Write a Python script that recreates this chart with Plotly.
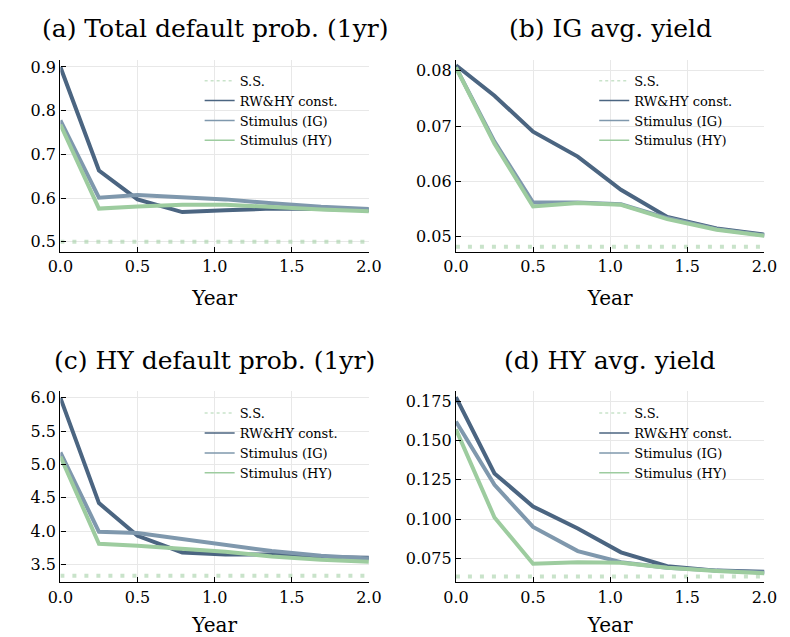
import plotly.graph_objects as go

# ---------------- data ----------------
years = [0.0, 0.25, 0.5, 0.79, 1.07, 1.37, 1.69, 2.0]

# (a) Total default prob. (1yr)
a_ss = 0.50
a_rw = [0.900, 0.663, 0.597, 0.568, 0.572, 0.576, 0.575, 0.572]
a_ig = [0.778, 0.601, 0.607, 0.603, 0.597, 0.588, 0.580, 0.575]
a_hy = [0.768, 0.576, 0.581, 0.585, 0.585, 0.579, 0.574, 0.570]

# (b) IG avg. yield
b_ss = 0.0482
b_rw = [0.0810, 0.0755, 0.0690, 0.0645, 0.0585, 0.0536, 0.0515, 0.0504]
b_ig = [0.0806, 0.0672, 0.0562, 0.0562, 0.0559, 0.0534, 0.0514, 0.0503]
b_hy = [0.0806, 0.0668, 0.0555, 0.0561, 0.0558, 0.0532, 0.0513, 0.0502]

# (c) HY default prob. (1yr)
c_ss = 3.33
c_rw = [6.00, 4.42, 3.93, 3.68, 3.65, 3.65, 3.61, 3.60]
c_ig = [5.18, 3.99, 3.97, 3.88, 3.80, 3.70, 3.63, 3.59]
c_hy = [5.12, 3.81, 3.78, 3.74, 3.69, 3.62, 3.57, 3.54]

# (d) HY avg. yield
d_ss = 0.0634
d_rw = [0.1775, 0.1290, 0.1080, 0.0940, 0.0788, 0.0700, 0.0672, 0.0665]
d_ig = [0.1620, 0.1217, 0.0950, 0.0796, 0.0725, 0.0690, 0.0672, 0.0660]
d_hy = [0.1570, 0.1010, 0.0716, 0.0725, 0.0722, 0.0690, 0.0670, 0.0655]

titles = ["(a) Total default prob. (1yr)", "(b) IG avg. yield",
          "(c) HY default prob. (1yr)", "(d) HY avg. yield"]
names = ["S.S.", "RW&HY const.", "Stimulus (IG)", "Stimulus (HY)"]
xticks = [0.0, 0.5, 1.0, 1.5, 2.0]

C_RW = "#4b6581"
C_IG = "#7f98ad"
C_HY = "#9dcc9f"
C_SS = "rgba(157,204,159,0.55)"

FONT = "DejaVu Serif"

W, H = 790, 637

def px_x(p):
    return p / W

def px_y(p):
    return 1 - p / H

panels = [
    dict(ss=a_ss, rw=a_rw, ig=a_ig, hy=a_hy, xd=(49, 368), yd=(57, 250),
         yr=(0.477, 0.9166), ytv=[0.5, 0.6, 0.7, 0.8, 0.9], fmt=".1f"),
    dict(ss=b_ss, rw=b_rw, ig=b_ig, hy=b_hy, xd=(458, 777), yd=(57, 250),
         yr=(0.0473, 0.0820), ytv=[0.05, 0.06, 0.07, 0.08], fmt=".2f"),
    dict(ss=c_ss, rw=c_rw, ig=c_ig, hy=c_hy, xd=(49, 368), yd=(390, 582),
         yr=(3.232, 6.10), ytv=[3.5, 4.0, 4.5, 5.0, 5.5, 6.0], fmt=".1f"),
    dict(ss=d_ss, rw=d_rw, ig=d_ig, hy=d_hy, xd=(458, 777), yd=(390, 582),
         yr=(0.0598, 0.1813), ytv=[0.075, 0.100, 0.125, 0.150, 0.175], fmt=".3f"),
]

fig = go.Figure()
layout = dict(
    width=W, height=H, margin=dict(l=0, r=0, t=0, b=0),
    paper_bgcolor="white", plot_bgcolor="white",
    font=dict(family=FONT, color="black"),
    showlegend=True,
)
annotations = []

legend_pos = [(193, 63), (601, 63), (193, 397), (601, 397)]

for i, p in enumerate(panels):
    k = "" if i == 0 else str(i + 1)
    xa, ya = "x" + k, "y" + k
    lg = "legend" + k
    ssv = [p["ss"]] * len(years)
    # steady state
    fig.add_trace(go.Scatter(x=years, y=ssv, mode="lines", xaxis=xa, yaxis=ya,
                             line=dict(color=C_SS, width=4, dash="4px,8px"),
                             showlegend=False, hoverinfo="skip"))
    for yv, col in [(p["rw"], C_RW), (p["ig"], C_IG), (p["hy"], C_HY)]:
        fig.add_trace(go.Scatter(x=years, y=yv, mode="lines", xaxis=xa, yaxis=ya,
                                 line=dict(color=col, width=4),
                                 showlegend=False))
    # legend entries (thin lines)
    for nm, col, dash in [(names[0], C_SS, "dot"),
                          (names[1], C_RW, "solid"),
                          (names[2], C_IG, "solid"),
                          (names[3], C_HY, "solid")]:
        fig.add_trace(go.Scatter(x=[None], y=[None], mode="lines", xaxis=xa, yaxis=ya,
                                 name=nm, legend=lg,
                                 line=dict(color=col, width=1.5, dash=dash)))
    lx, ly = legend_pos[i]
    layout[lg] = dict(x=px_x(lx), y=px_y(ly), xanchor="left", yanchor="top",
                      bgcolor="rgba(0,0,0,0)", borderwidth=0,
                      font=dict(family=FONT, size=13, color="black"),
                      tracegroupgap=0, itemwidth=30)
    xname = "xaxis" + k
    yname = "yaxis" + k
    layout[xname] = dict(
        domain=[px_x(p["xd"][0]), px_x(p["xd"][1])], range=[0, 2],
        anchor=ya, tickvals=xticks, tickformat=".1f",
        showline=True, linecolor="black", linewidth=1.3, mirror=False,
        ticks="inside", ticklen=5, tickcolor="black", tickwidth=1.2,
        showgrid=True, gridcolor="#e8e8e8", gridwidth=1, zeroline=False,
        tickfont=dict(family=FONT, size=16, color="black"),
        title=dict(text="Year", font=dict(family=FONT, size=20, color="black"), standoff=15),
    )
    layout[yname] = dict(
        domain=[px_y(p["yd"][1]), px_y(p["yd"][0])], range=list(p["yr"]),
        anchor=xa, tickvals=p["ytv"], tickformat=p["fmt"],
        showline=True, linecolor="black", linewidth=1.3, mirror=False,
        ticks="inside", ticklen=5, tickcolor="black", tickwidth=1.2,
        showgrid=True, gridcolor="#e8e8e8", gridwidth=1, zeroline=False,
        tickfont=dict(family=FONT, size=16, color="black"),
    )
    cx = (p["xd"][0] + p["xd"][1]) / 2
    ty = 26 if i < 2 else 359
    annotations.append(dict(text=titles[i], x=px_x(cx), y=px_y(ty), xref="paper", yref="paper",
                            xanchor="center", yanchor="middle", showarrow=False,
                            font=dict(family=FONT, size=25, color="black")))

layout["annotations"] = annotations
fig.update_layout(**layout)
fig.write_html("out.html")
